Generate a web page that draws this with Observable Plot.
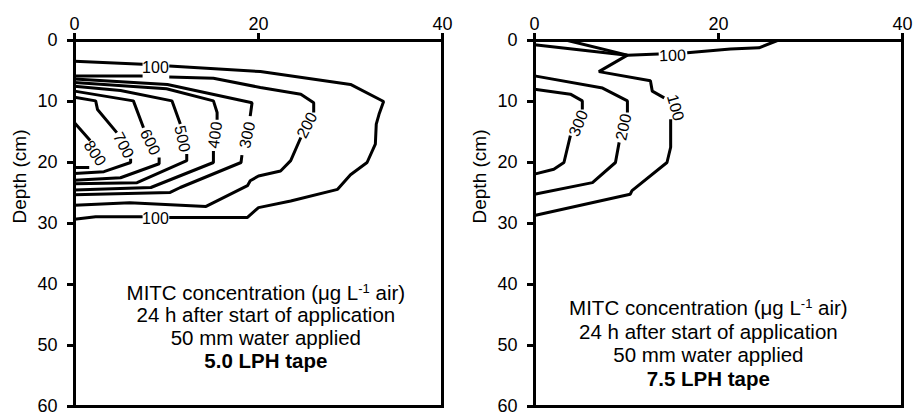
<!DOCTYPE html>
<html><head><meta charset="utf-8">
<script src="https://cdn.jsdelivr.net/npm/d3@7"></script>
<script src="https://cdn.jsdelivr.net/npm/@observablehq/plot@0.6"></script>
<style>
body{margin:0;background:#fff;}
#wrap{display:flex;width:914px;height:417px;overflow:hidden;}
</style></head><body><div id="wrap"></div>
<script>
// ---- axis ticks ----
const xTicks = [0, 20, 40];
const yTicks = [0, 10, 20, 30, 40, 50, 60];

// ---- annotation text ----
const annotLines = ["MITC concentration (μg L⁻¹ air)", "24 h after start of application", "50 mm water applied"];
const tapeLeft = "5.0 LPH tape";
const tapeRight = "7.5 LPH tape";

// ---- contour polylines, [distance, depth]; null = gap where a label sits ----
// 5.0 LPH tape
const left100 = [[0,3.4],[7.4,3.9],null,[10.3,4.2],[20.2,5.1],[30.0,7.2],[33.6,10.0],[33.1,12.1],[32.8,13.7],[32.7,17.0],[31.8,20.0],[30.0,22.0],[28.6,24.4],[23.5,26.3],[20.0,27.4],[18.8,29.0],[10.3,29.0],null,[7.4,28.9],[2.3,28.9],[0,29.3]];
const left200 = [[0,5.8],[7.4,5.8],null,[10.3,6.0],[15.1,6.2],[20.2,7.7],[24.6,8.8],[26.0,10.2],[26.0,11.8],null,[24.6,15.9],[23.5,19.7],[22.4,21.4],[20.0,22.2],[19.1,23.0],[18.8,23.8],[14.3,27.2],[6.0,26.6],[0,27.0]];
const left300 = [[0,6.3],[10.1,7.2],[19.3,10.2],[19.1,12.4],null,[18.2,18.8],[18.1,20.0],[11.5,24.1],[10.4,24.9],[0,25.3]];
const left400 = [[0,6.9],[10.0,7.9],[15.1,9.9],[15.5,11.8],[15.5,13.0],null,[15.1,18.1],[15.1,20.0],[8.3,24.1],[0,24.5]];
const left500 = [[0,7.5],[5.0,8.2],[10.6,9.9],[11.5,13.7],null,[12.2,18.6],[12.2,19.7],[6.8,23.3],[0,23.5]];
const left600 = [[0,8.3],[6.4,9.9],[7.5,14.3],null,[9.2,19.2],[9.2,20.2],[5.0,22.5],[0,22.9]];
const left700 = [[0,9.3],[2.3,9.9],[2.5,11.3],[4.6,15.1],null,[6.1,19.4],[6.1,20.0],[3.2,21.5],[0,21.8]];
const left800 = [[0,13.5],[1.7,16.4],null,[1.6,20.8],[0,20.8]];
// 7.5 LPH tape
const right100a = [[0,0.7],[10.1,2.4],[13.5,2.2],null,[16.6,2.0],[21.3,1.4],[24.4,1.2],[26.4,0]];
const right100b = [[3.6,0],[10.1,2.4],[7.0,5.1],[12.6,6.6],[12.8,8.3],[14.1,9.4],null,[14.8,12.9],[14.8,17.5],[14.4,20.0],[10.6,24.6],[10.4,25.2],[0,28.7]];
const right200 = [[0,5.8],[7.4,7.8],[10.1,9.9],[10.1,11.8],null,[9.2,16.7],[8.8,20.0],[6.3,23.3],[0,25.2]];
const right300 = [[0,8.0],[3.9,8.8],[5.2,9.9],[5.2,11.3],null,[3.9,15.6],[3.2,20.0],[2.1,21.1],[0,21.9]];

// ---- contour labels ----
const leftLabelText  = ["100","100","200","300","400","500","600","700","800"];
const leftLabelX     = [8.8, 8.8, 25.3, 18.8, 15.3, 11.7, 8.2, 5.3, 2.2];
const leftLabelY     = [4.5, 29.3, 13.9, 15.5, 15.5, 16.1, 16.7, 17.2, 18.5];
const leftLabelAngle = [0, 0, -63, -78, -82, 78, 64, 62, 55];

const rightLabelText  = ["100","100","200","300"];
const rightLabelX     = [15.0, 15.3, 9.7, 4.8];
const rightLabelY     = [2.5, 11.0, 14.2, 13.6];
const rightLabelAngle = [-2, 74, -78, -67];

function toRows(list) {
  const rows = [];
  list.forEach((pts, k) => pts.forEach(p => rows.push(p ? {x: p[0], y: p[1], k} : {x: NaN, y: NaN, k})));
  return rows;
}
function labelRows(t, x, y, r) { return t.map((d, i) => ({t: d, x: x[i], y: y[i], r: r[i]})); }

const FONT = "'Liberation Sans', Arial, Helvetica, sans-serif";

function panel({lines, labels, tape, annotX, annotY, marginLeft, marginRight}) {
  const annRows = annotLines.map((t, i) => ({t, x: annotX, y: annotY[i]}));
  const svg = Plot.plot({
    width: 457, height: 417,
    marginLeft, marginRight, marginTop: 40, marginBottom: 11,
    x: {domain: [0, 40]},
    y: {domain: [0, 60], reverse: true},
    style: {fontFamily: FONT, fontSize: "18px", color: "black", background: "white", overflow: "visible"},
    marks: [
      Plot.line(toRows(lines), {x: "x", y: "y", z: "k", stroke: "black", strokeWidth: 3, strokeLinejoin: "miter", strokeLinecap: "butt"}),
      Plot.text(labels, {x: "x", y: "y", text: "t", rotate: "r", fontSize: 16, fill: "black"}),
      Plot.text(annRows, {x: "x", y: "y", text: "t", fontSize: 20.5, fill: "black"}),
      Plot.text([tape], {x: () => annotX, y: () => annotY[3], text: d => d, fontSize: 20.5, fontWeight: "bold", fill: "black"}),
      Plot.text(["Depth (cm)"], {frameAnchor: "left", dx: -55, rotate: -90, fontSize: 19, fill: "black"}),
      Plot.frame({stroke: "black", strokeWidth: 3}),
      Plot.axisX({anchor: "top", ticks: xTicks, tickSize: 8, tickPadding: 3, strokeWidth: 3, fontSize: 18, label: null, tickFormat: d => String(d)}),
      Plot.axisY({anchor: "left", ticks: yTicks, tickSize: 7, tickPadding: 10, strokeWidth: 3, fontSize: 18, label: null, tickFormat: d => String(d)})
    ]
  });
  // superscript for L^-1
  d3.select(svg).selectAll("text").each(function() {
    const el = d3.select(this);
    const s = this.textContent;
    if (s.includes("⁻¹") && this.children.length === 0) {
      const [a, b] = s.split("⁻¹");
      el.text(null);
      el.append("tspan").text(a);
      el.append("tspan").attr("dy", "-7").attr("font-size", "13").text("-1");
      el.append("tspan").attr("dy", "7").text(b);
    }
  });
  return svg;
}

const wrap = document.getElementById("wrap");
wrap.appendChild(panel({
  lines: [left100, left200, left300, left400, left500, left600, left700, left800],
  labels: labelRows(leftLabelText, leftLabelX, leftLabelY, leftLabelAngle),
  tape: tapeLeft, annotX: 20.8, annotY: [41.5, 45.1, 48.8, 52.6],
  marginLeft: 74, marginRight: 15
}));
wrap.appendChild(panel({
  lines: [right100a, right100b, right200, right300],
  labels: labelRows(rightLabelText, rightLabelX, rightLabelY, rightLabelAngle),
  tape: tapeRight, annotX: 18.9, annotY: [44.0, 47.8, 51.6, 55.6],
  marginLeft: 77, marginRight: 12
}));
</script></body></html>
